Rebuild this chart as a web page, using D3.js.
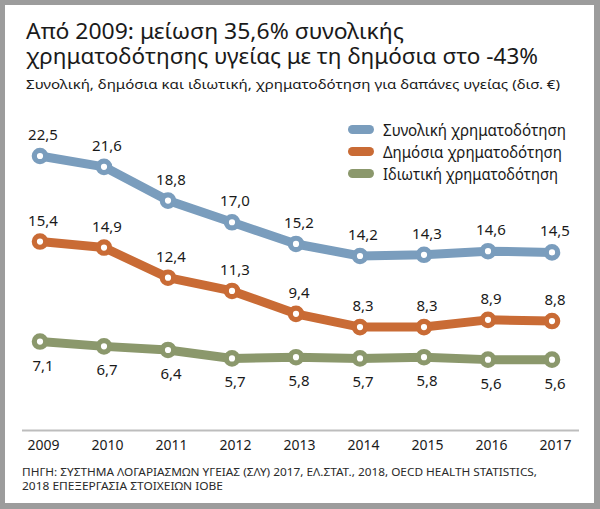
<!DOCTYPE html>
<html><head><meta charset="utf-8">
<script src="https://cdn.jsdelivr.net/npm/d3@7"></script>
<style>body{margin:0;background:#fff}svg{display:block}text{font-family:"Noto Sans","Open Sans",sans-serif}</style>
</head><body>
<svg id="c" width="600" height="509"></svg>
<script>
const years = [2009, 2010, 2011, 2012, 2013, 2014, 2015, 2016, 2017];
const totalFunding = [22.5, 21.6, 18.8, 17.0, 15.2, 14.2, 14.3, 14.6, 14.5];
const publicFunding = [15.4, 14.9, 12.4, 11.3, 9.4, 8.3, 8.3, 8.9, 8.8];
const privateFunding = [7.1, 6.7, 6.4, 5.7, 5.8, 5.7, 5.8, 5.6, 5.6];
const seriesNames = ["Συνολική χρηματοδότηση", "Δημόσια χρηματοδότηση", "Ιδιωτική χρηματοδότηση"];
const titleLines = ["Από 2009: μείωση 35,6% συνολικής", "χρηματοδότησης υγείας με τη δημόσια στο -43%"];
const subtitle = "Συνολική, δημόσια και ιδιωτική, χρηματοδότηση για δαπάνες υγείας (δισ. €)";
const sourceLines = ["ΠΗΓΗ: ΣΥΣΤΗΜΑ ΛΟΓΑΡΙΑΣΜΩΝ ΥΓΕΙΑΣ (ΣΛΥ) 2017, ΕΛ.ΣΤΑΤ., 2018, OECD HEALTH STATISTICS,", "2018 ΕΠΕΞΕΡΓΑΣΙΑ ΣΤΟΙΧΕΙΩΝ ΙΟΒΕ"];

const colors = ["#7a9dbd", "#c96b35", "#8b986c"];
const svg = d3.select("#c");

// frame
svg.append("rect").attr("width", 600).attr("height", 509).attr("fill", "#9c9c9c");
svg.append("rect").attr("x", 5).attr("y", 5).attr("width", 589).attr("height", 498).attr("fill", "#fff");

// title
const tl = [[38.5, 378], [64, 512]];
titleLines.forEach((t, i) => {
  svg.append("text").attr("x", 26).attr("y", tl[i][0]).attr("font-size", 21)
    .attr("font-family", "Lato, 'Noto Sans', sans-serif").attr("fill", "#1a1a1a")
    .attr("textLength", tl[i][1]).attr("lengthAdjust", "spacingAndGlyphs").text(t);
});
svg.append("text").attr("x", 26).attr("y", 88.5).attr("font-size", 13).attr("fill", "#1a1a1a")
  .attr("textLength", 534).attr("lengthAdjust", "spacingAndGlyphs").text(subtitle);

// scales
const x = d3.scalePoint().domain(years).range([40, 552]);
const y = d3.scaleLinear().domain([0, 22.5]).range([427.1, 156]);

// baseline + year labels
svg.append("line").attr("x1", 22).attr("x2", 579).attr("y1", 430.5).attr("y2", 430.5)
  .attr("stroke", "#bdbdbd").attr("stroke-width", 1.8);
const xAxis = svg.append("g").attr("transform", "translate(0,430.5)")
  .call(d3.axisBottom(x).tickSize(0).tickPadding(0));
xAxis.select(".domain").remove();
xAxis.selectAll("text").attr("font-size", 14).attr("fill", "#1a1a1a")
  .attr("font-family", "'Noto Sans', sans-serif").attr("dy", 0).attr("y", 19.5).attr("dx", 3);

// series
const series = [totalFunding, publicFunding, privateFunding];
const labelDy = [-16, -16, 29];
const line = d3.line().x((d, i) => x(years[i])).y(d => y(d));
series.forEach((vals, s) => {
  const g = svg.append("g");
  g.append("path").datum(vals).attr("d", line).attr("fill", "none")
    .attr("stroke", colors[s]).attr("stroke-width", 9).attr("stroke-linejoin", "round");
  g.selectAll("circle").data(vals).join("circle")
    .attr("cx", (d, i) => x(years[i])).attr("cy", d => y(d)).attr("r", 5.7)
    .attr("fill", "#fff").attr("stroke", colors[s]).attr("stroke-width", 5.2);
  g.selectAll("text").data(vals).join("text")
    .attr("x", (d, i) => x(years[i]) + 3).attr("y", d => y(d) + labelDy[s])
    .attr("text-anchor", "middle").attr("font-size", 15).attr("fill", "#1a1a1a")
    .text(d => d3.format(".1f")(d).replace(".", ","));
});

// legend
const legW = [183, 179, 175];
seriesNames.forEach((n, i) => {
  const cy = 129.5 + i * 22;
  svg.append("rect").attr("x", 348).attr("y", cy - 4.5).attr("width", 26).attr("height", 9)
    .attr("rx", 4.5).attr("fill", colors[i]);
  svg.append("text").attr("x", 383).attr("y", cy + 6.5).attr("font-size", 15.5).attr("fill", "#1a1a1a")
    .attr("textLength", legW[i]).attr("lengthAdjust", "spacingAndGlyphs").text(n);
});

// source
const srcW = [515, 201];
sourceLines.forEach((t, i) => {
  svg.append("text").attr("x", 22).attr("y", 476 + i * 14).attr("font-size", 10.2).attr("fill", "#2a2a2a")
    .attr("textLength", srcW[i]).attr("lengthAdjust", "spacingAndGlyphs").text(t);
});
</script>
</body></html>
